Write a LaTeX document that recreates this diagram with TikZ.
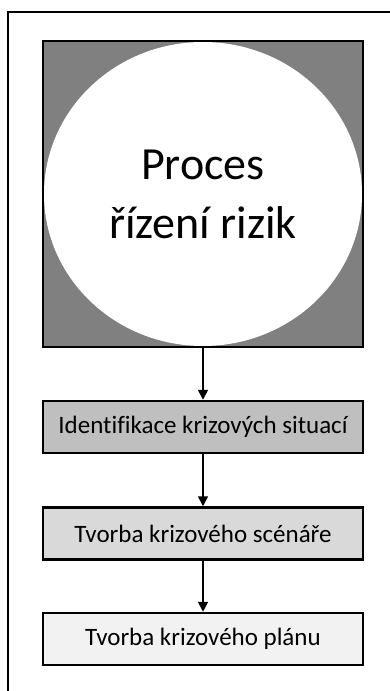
\documentclass[tikz,border=0pt]{standalone}
\usepackage{fontspec}
\setmainfont[Ligatures=NoCommon]{Carlito}
\usetikzlibrary{arrows.meta,shapes.geometric}
\definecolor{procgray}{HTML}{808080}
\definecolor{stepone}{HTML}{BFBFBF}
\definecolor{steptwo}{HTML}{D9D9D9}
\definecolor{stepthree}{HTML}{F2F2F2}
\tikzset{
  stepbox/.style={draw=black, line width=2.5pt, minimum width=320pt,
    minimum height=52pt, inner sep=0pt, font=\fontsize{25}{30}\selectfont},
  flow/.style={line width=1.6pt, -{Triangle[length=10pt,width=10pt]}},
  frameline/.style={line width=1.5pt, draw=black}
}
\begin{document}
\begin{tikzpicture}[x=1pt,y=-1pt]
  \useasboundingbox (0,0) rectangle (390,691);
  % outer frame, running off the page at right and bottom
  \coordinate (fr) at (392,12);
  \coordinate (fc) at (8,12);
  \coordinate (fb) at (8,693);
  \draw[frameline] (fr) -- (fc) -- (fb);
  % risk management process block
  \node[draw=black, line width=2.5pt, fill=procgray, minimum width=320pt,
        minimum height=306pt, inner sep=0pt] (proc) at (203,194) {};
  \node[ellipse, fill=white, minimum width=318pt, minimum height=304pt,
        inner sep=0pt] (circ) at (203,194) {};
  \node[align=center, font=\fontsize{46}{59}\selectfont] (title) at (203,194)
        {Proces\\řízení rizik};
  % process steps
  \node[stepbox, fill=stepone]   (s1) at (203,427)   {Identifikace krizových situací};
  \node[stepbox, fill=steptwo]   (s2) at (203,533.5) {Tvorba krizového scénáře};
  \node[stepbox, fill=stepthree] (s3) at (203,639)   {Tvorba krizového plánu};
  % connectors
  \draw[flow] (proc.south) -- (s1.north);
  \draw[flow] (s1.south) -- (s2.north);
  \draw[flow] (s2.south) -- (s3.north);
\end{tikzpicture}
\end{document}
